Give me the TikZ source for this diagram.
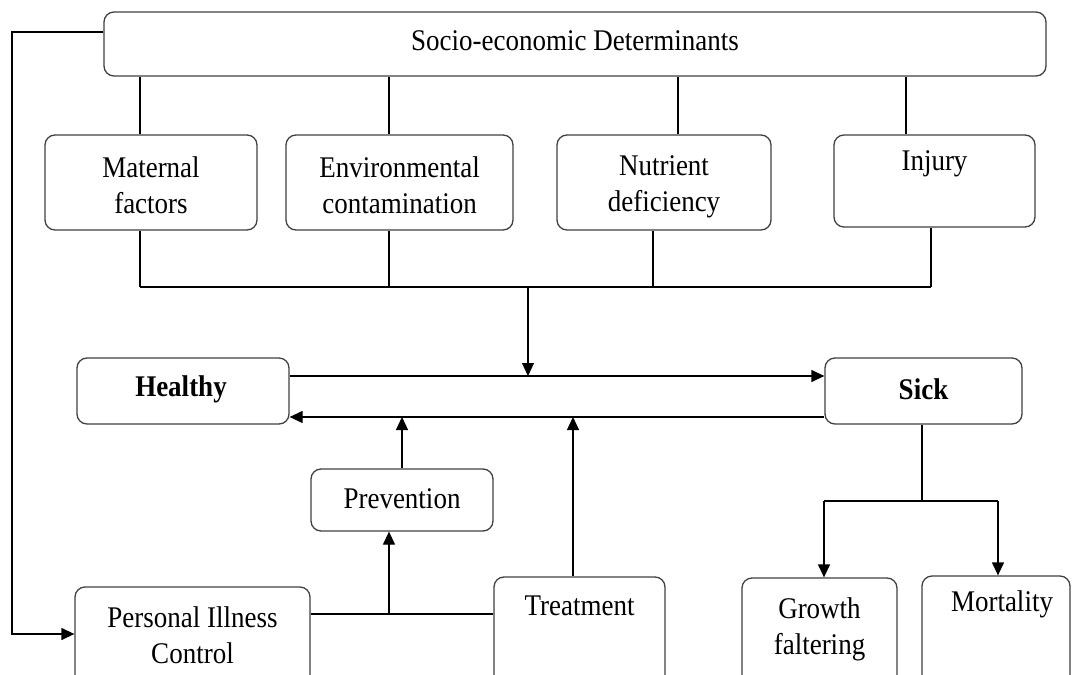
\documentclass[tikz,border=0pt]{standalone}
\usepackage{fontspec}
\setmainfont{Liberation Serif}[FakeStretch=0.9]
\usetikzlibrary{arrows.meta,calc}

\tikzset{
  box/.style={draw=black!75, line width=0.65pt, rounded corners=5pt, rectangle, inner sep=0pt},
  txt/.style={inner sep=0pt, align=center, font=\fontsize{15}{18}\selectfont},
  link/.style={draw=black, line width=0.65pt},
  arr/.style={link, -{Triangle[length=6.5pt,width=6pt]}},
}

\begin{document}
\begin{tikzpicture}[x=0.5pt,y=-0.5pt]
  \useasboundingbox (0,0) rectangle (1073,675);
  \clip (0,0) rectangle (1073,675);

  % boxes (centre, width and height given in px of the sheet)
  \node[box, minimum width=471pt, minimum height=32pt] (top) at (575,44) {};
  \node[txt] (topt) at (575,41) {Socio-economic Determinants};

  \node[box, minimum width=106pt, minimum height=47.5pt] (mat) at (151,182.5) {};
  \node[txt] (matt) at (151,185) {Maternal\\factors};

  \node[box, minimum width=113.5pt, minimum height=47.5pt] (env) at (399.5,182.5) {};
  \node[txt] (envt) at (399.5,185) {Environmental\\contamination};

  \node[box, minimum width=107pt, minimum height=47.5pt] (nut) at (664,182.5) {};
  \node[txt] (nutt) at (664,187) {Nutrient\\deficiency};

  \node[box, minimum width=100.5pt, minimum height=46pt] (inj) at (934.5,181) {};
  \node[txt] (injt) at (934.5,164) {Injury};

  \node[box, minimum width=106pt, minimum height=33pt] (healthy) at (183,391) {};
  \node[txt, font=\fontsize{15}{18}\selectfont\bfseries] (healthyt) at (181,389) {Healthy};

  \node[box, minimum width=98.5pt, minimum height=33pt] (sick) at (923.5,391) {};
  \node[txt, font=\fontsize{15}{18}\selectfont\bfseries] (sickt) at (923.5,389) {Sick};

  \node[box, minimum width=91pt, minimum height=31pt] (prev) at (402,500) {};
  \node[txt] (prevt) at (402,499) {Prevention};

  \node[box, minimum width=117.5pt, minimum height=56.5pt] (pic) at (192.5,643.5) {};
  \node[txt] (pict) at (192.5,635) {Personal Illness\\Control};

  \node[box, minimum width=85.5pt, minimum height=61.5pt] (treat) at (579.5,638.5) {};
  \node[txt] (treatt) at (579.5,606) {Treatment};

  \node[box, minimum width=77.5pt, minimum height=61pt] (grow) at (819.5,639) {};
  \node[txt] (growt) at (819.5,629) {Growth\\faltering};

  \node[box, minimum width=74pt, minimum height=62pt] (mort) at (996,638) {};
  \node[txt] (mortt) at (1002,604) {Mortality};

  % guide coordinates for the connector runs
  \coordinate (xa) at (140,0);
  \coordinate (xb) at (389,0);
  \coordinate (xc) at (678,0);
  \coordinate (xd) at (906,0);
  \coordinate (xn) at (653,0);
  \coordinate (xi) at (931,0);
  \coordinate (xm) at (528,0);
  \coordinate (xt) at (573,0);
  \coordinate (xs) at (922,0);
  \coordinate (xg) at (824,0);
  \coordinate (xo) at (998,0);
  \coordinate (bus) at (0,287);
  \coordinate (fwd) at (0,376);
  \coordinate (back) at (0,417);
  \coordinate (ctl) at (0,614);
  \coordinate (split) at (0,501);
  \coordinate (lt) at (12,32);
  \coordinate (lb) at (12,634);

  % socio-economic determinants to the four factors
  \draw[link] (top.south -| xa) -- (mat.north -| xa);
  \draw[link] (top.south -| xb) -- (env.north -| xb);
  \draw[link] (top.south -| xc) -- (nut.north -| xc);
  \draw[link] (top.south -| xd) -- (inj.north -| xd);

  % factors gathered on one bus
  \draw[link] (mat.south -| xa) -- (bus -| xa);
  \draw[link] (env.south -| xb) -- (bus -| xb);
  \draw[link] (nut.south -| xn) -- (bus -| xn);
  \draw[link] (inj.south -| xi) -- (bus -| xi);
  \draw[link] (bus -| xa) -- (bus -| xi);
  \draw[arr] (bus -| xm) -- (fwd -| xm);

  % healthy <-> sick
  \draw[arr] (healthy.east |- fwd) -- (sick.west |- fwd);
  \draw[arr] (sick.west |- back) -- (healthy.east |- back);

  % illness control
  \draw[arr] (lt -| top.west) -- (lt) -- (lb) -- (pic.west |- lb);
  \draw[link] (pic.east |- ctl) -- (treat.west |- ctl);
  \draw[arr] (ctl -| xb) -- (prev.south -| xb);
  \draw[arr] (prev.north) -- (prev.north |- back);
  \draw[arr] (treat.north -| xt) -- (back -| xt);

  % outcomes of sickness
  \draw[link] (sick.south -| xs) -- (split -| xs);
  \draw[link] (split -| xg) -- (split -| xo);
  \draw[arr] (split -| xg) -- (grow.north -| xg);
  \draw[arr] (split -| xo) -- (mort.north -| xo);
\end{tikzpicture}
\end{document}
